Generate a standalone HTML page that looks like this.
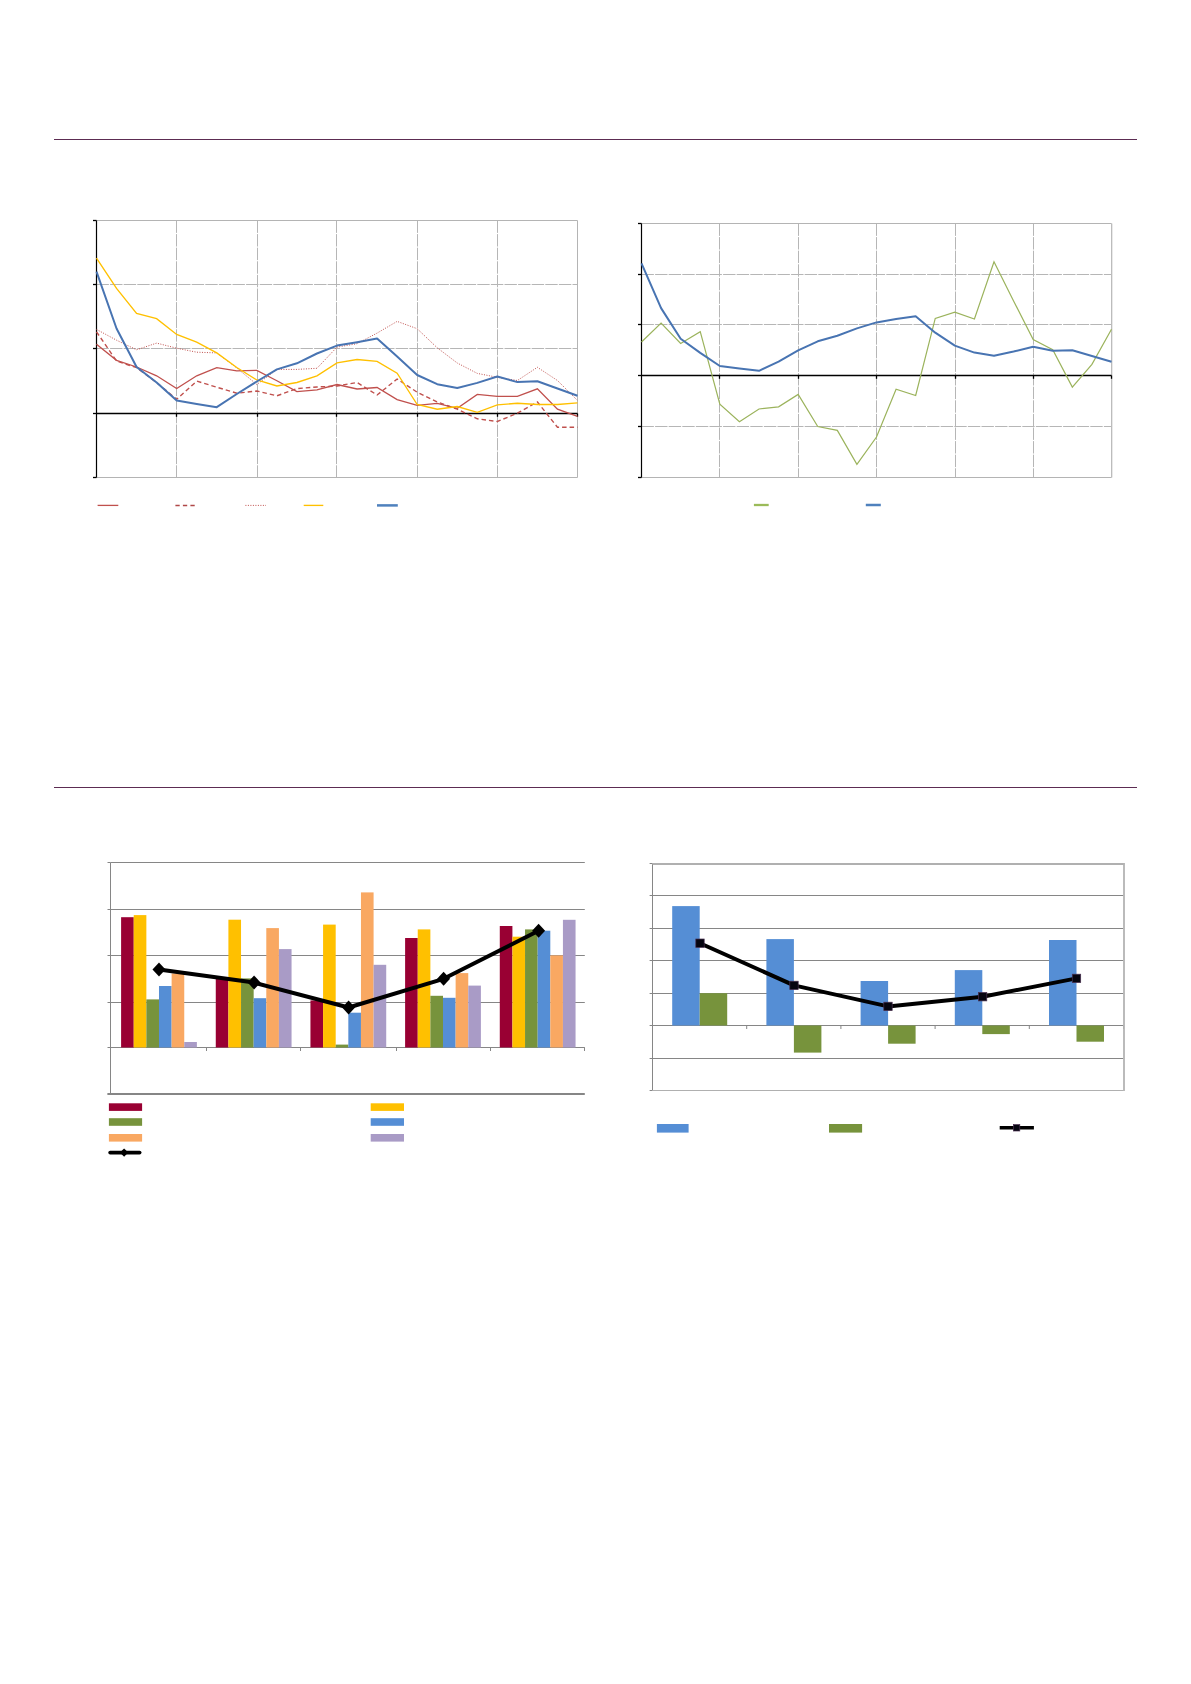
<!DOCTYPE html>
<html><head><meta charset="utf-8"><title>Charts</title>
<style>
html,body{margin:0;padding:0;background:#fff;}
body{width:1191px;height:1684px;overflow:hidden;font-family:"Liberation Sans",sans-serif;}
svg{position:absolute;left:0;top:0;display:block;}
</style></head>
<body>
<svg width="1191" height="1684" viewBox="0 0 1191 1684">
<rect x="54" y="139" width="1083" height="1" fill="#5c2c52"/>
<rect x="54" y="787" width="1083" height="1" fill="#5c2c52"/>
<g stroke="#b6b6b6" stroke-width="1" stroke-dasharray="12.4,1.2"><line x1="96.5" y1="284.5" x2="577.5" y2="284.5"/><line x1="96.5" y1="348.5" x2="577.5" y2="348.5"/><line x1="176.50" y1="220.5" x2="176.50" y2="477.5"/><line x1="257.50" y1="220.5" x2="257.50" y2="477.5"/><line x1="336.50" y1="220.5" x2="336.50" y2="477.5"/><line x1="417.50" y1="220.5" x2="417.50" y2="477.5"/><line x1="497.50" y1="220.5" x2="497.50" y2="477.5"/></g>
<path d="M96.5 220.5 H577.5 V477.5 H96.5" fill="none" stroke="#b4b4b4" stroke-width="1"/>
<line x1="96.5" y1="220.5" x2="96.5" y2="477.5" stroke="#000" stroke-width="1.2"/>
<line x1="96.5" y1="413.5" x2="577.5" y2="413.5" stroke="#000" stroke-width="1.4"/>
<g stroke="#000" stroke-width="1.3"><line x1="93" y1="220.5" x2="96.5" y2="220.5"/><line x1="93" y1="284.5" x2="96.5" y2="284.5"/><line x1="93" y1="348.5" x2="96.5" y2="348.5"/><line x1="93" y1="413.5" x2="96.5" y2="413.5"/><line x1="93" y1="477.5" x2="96.5" y2="477.5"/><line x1="176.50" y1="413.5" x2="176.50" y2="416.8"/><line x1="257.50" y1="413.5" x2="257.50" y2="416.8"/><line x1="336.50" y1="413.5" x2="336.50" y2="416.8"/><line x1="417.50" y1="413.5" x2="417.50" y2="416.8"/><line x1="497.50" y1="413.5" x2="497.50" y2="416.8"/><line x1="577.50" y1="413.5" x2="577.50" y2="416.8"/></g>
<polyline points="96.50,329.40 116.54,340.20 136.58,349.80 156.62,343.10 176.67,348.20 196.71,352.20 216.75,352.90 236.79,368.00 256.83,384.50 276.88,369.40 296.92,369.40 316.96,368.30 337.00,347.10 357.04,343.70 377.08,333.10 397.12,321.40 417.17,328.70 437.21,347.80 457.25,363.00 477.29,373.40 497.33,377.30 517.38,380.50 537.42,367.30 557.46,380.50 577.50,400.50" fill="none" stroke="#c0504d" stroke-width="1" stroke-dasharray="1,1.5"/>
<polyline points="96.50,331.80 116.54,361.00 136.58,367.70 156.62,382.50 176.67,399.30 196.71,381.10 216.75,387.20 236.79,393.20 256.83,391.00 276.88,395.80 296.92,388.60 316.96,387.00 337.00,386.00 357.04,382.50 377.08,395.00 397.12,379.00 417.17,392.20 437.21,402.00 457.25,409.20 477.29,418.80 497.33,421.50 517.38,413.20 537.42,402.00 557.46,427.30 577.50,427.30" fill="none" stroke="#c0504d" stroke-width="1.4" stroke-dasharray="4.5,3"/>
<polyline points="96.50,344.20 116.54,360.30 136.58,367.00 156.62,375.80 176.67,388.50 196.71,375.80 216.75,367.70 236.79,370.80 256.83,370.40 276.88,380.70 296.92,391.60 316.96,389.80 337.00,384.50 357.04,389.00 377.08,387.50 397.12,399.60 417.17,405.30 437.21,403.30 457.25,408.40 477.29,394.40 497.33,396.30 517.38,396.30 537.42,388.80 557.46,409.20 577.50,416.40" fill="none" stroke="#c0504d" stroke-width="1.3"/>
<polyline points="96.50,258.10 116.54,288.40 136.58,313.30 156.62,318.60 176.67,334.50 196.71,342.20 216.75,352.90 236.79,367.50 256.83,380.00 276.88,386.00 296.92,382.50 316.96,375.90 337.00,362.90 357.04,359.50 377.08,361.40 397.12,373.20 417.17,404.50 437.21,409.20 457.25,406.50 477.29,412.40 497.33,404.90 517.38,403.30 537.42,404.50 557.46,404.50 577.50,402.90" fill="none" stroke="#ffc000" stroke-width="1.35"/>
<polyline points="96.50,271.60 116.54,328.50 136.58,367.00 156.62,382.50 176.67,400.60 196.71,404.00 216.75,407.20 236.79,394.00 256.83,381.50 276.88,369.40 296.92,363.30 316.96,353.50 337.00,345.60 357.04,342.20 377.08,338.40 397.12,356.50 417.17,375.00 437.21,384.20 457.25,388.00 477.29,382.90 497.33,376.50 517.38,382.10 537.42,381.30 557.46,388.50 577.50,395.70" fill="none" stroke="#4874b2" stroke-width="2.0" stroke-linejoin="round"/>
<line x1="97.6" y1="505.4" x2="118.3" y2="505.4" stroke="#c0504d" stroke-width="1.3"/>
<line x1="175.4" y1="505.4" x2="195.4" y2="505.4" stroke="#b04848" stroke-width="1.5" stroke-dasharray="4.3,3.2"/>
<line x1="245.4" y1="505.4" x2="266" y2="505.4" stroke="#c0504d" stroke-width="1" stroke-dasharray="1,1.5"/>
<line x1="303.7" y1="505.4" x2="323.3" y2="505.4" stroke="#ffc000" stroke-width="1.35"/>
<line x1="377" y1="505.4" x2="397.8" y2="505.4" stroke="#4f81bd" stroke-width="2.5"/>
<g stroke="#b6b6b6" stroke-width="1" stroke-dasharray="12.4,1.2"><line x1="641.5" y1="274.50" x2="1111.5" y2="274.50"/><line x1="641.5" y1="324.50" x2="1111.5" y2="324.50"/><line x1="641.5" y1="426.50" x2="1111.5" y2="426.50"/><line x1="719.50" y1="223.50" x2="719.50" y2="477.50"/><line x1="798.50" y1="223.50" x2="798.50" y2="477.50"/><line x1="876.50" y1="223.50" x2="876.50" y2="477.50"/><line x1="955.50" y1="223.50" x2="955.50" y2="477.50"/><line x1="1033.50" y1="223.50" x2="1033.50" y2="477.50"/></g>
<path d="M641.5 223.5 H1111.5 V477.5 H641.5" fill="none" stroke="#b4b4b4" stroke-width="1"/>
<line x1="1112.2" y1="223.50" x2="1112.2" y2="477.50" stroke="#d8d8d8" stroke-width="0.8"/>
<line x1="641.5" y1="223.50" x2="641.5" y2="477.50" stroke="#000" stroke-width="1.2"/>
<line x1="641.5" y1="375.50" x2="1111.5" y2="375.50" stroke="#000" stroke-width="1.4"/>
<g stroke="#000" stroke-width="1.3"><line x1="638" y1="223.50" x2="641.5" y2="223.50"/><line x1="638" y1="274.50" x2="641.5" y2="274.50"/><line x1="638" y1="324.50" x2="641.5" y2="324.50"/><line x1="638" y1="375.50" x2="641.5" y2="375.50"/><line x1="638" y1="426.50" x2="641.5" y2="426.50"/><line x1="638" y1="477.50" x2="641.5" y2="477.50"/><line x1="719.50" y1="375.50" x2="719.50" y2="378.80"/><line x1="798.50" y1="375.50" x2="798.50" y2="378.80"/><line x1="876.50" y1="375.50" x2="876.50" y2="378.80"/><line x1="955.50" y1="375.50" x2="955.50" y2="378.80"/><line x1="1033.50" y1="375.50" x2="1033.50" y2="378.80"/><line x1="1111.50" y1="375.50" x2="1111.50" y2="378.80"/></g>
<polyline points="641.50,342.00 661.08,323.00 680.67,343.50 700.25,331.70 719.83,404.20 739.42,421.70 759.00,409.00 778.58,406.80 798.17,394.40 817.75,426.50 837.33,430.40 856.92,464.30 876.50,437.00 896.08,389.30 915.67,395.50 935.25,318.40 954.83,312.20 974.42,319.00 994.00,261.70 1013.58,300.90 1033.17,339.50 1052.75,349.70 1072.33,387.10 1091.92,364.40 1111.50,329.30" fill="none" stroke="#9bb35c" stroke-width="1.2"/>
<polyline points="641.50,263.30 661.08,308.10 680.67,338.70 700.25,352.90 719.83,366.00 739.42,368.60 759.00,370.80 778.58,361.60 798.17,350.30 817.75,341.30 837.33,335.80 856.92,328.40 876.50,322.40 896.08,319.00 915.67,316.30 935.25,332.70 954.83,345.60 974.42,352.60 994.00,355.80 1013.58,351.50 1033.17,346.70 1052.75,350.80 1072.33,350.30 1091.92,356.00 1111.50,361.70" fill="none" stroke="#4874b2" stroke-width="2.0" stroke-linejoin="round"/>
<line x1="753.9" y1="505" x2="768.7" y2="505" stroke="#9bbb59" stroke-width="2.3"/>
<line x1="865.8" y1="505" x2="880.8" y2="505" stroke="#4f81bd" stroke-width="2.5"/>
<g stroke="#868686" stroke-width="1"><line x1="110.5" y1="862.50" x2="584.8" y2="862.50"/><line x1="110.5" y1="909.50" x2="584.8" y2="909.50"/><line x1="110.5" y1="955.50" x2="584.8" y2="955.50"/><line x1="110.5" y1="1002.50" x2="584.8" y2="1002.50"/><line x1="110.5" y1="1047.50" x2="584.8" y2="1047.50"/><line x1="107.5" y1="862.50" x2="110.5" y2="862.50"/><line x1="107.5" y1="909.50" x2="110.5" y2="909.50"/><line x1="107.5" y1="955.50" x2="110.5" y2="955.50"/><line x1="107.5" y1="1002.50" x2="110.5" y2="1002.50"/><line x1="107.5" y1="1047.50" x2="110.5" y2="1047.50"/><line x1="107.5" y1="1094.00" x2="110.5" y2="1094.00"/><line x1="206.50" y1="1047.50" x2="206.50" y2="1051.00"/><line x1="300.50" y1="1047.50" x2="300.50" y2="1051.00"/><line x1="396.50" y1="1047.50" x2="396.50" y2="1051.00"/><line x1="490.50" y1="1047.50" x2="490.50" y2="1051.00"/><line x1="584.50" y1="1047.50" x2="584.50" y2="1051.00"/><line x1="110.5" y1="862.50" x2="110.5" y2="1094.00"/></g>
<line x1="107.5" y1="1094.00" x2="584.8" y2="1094.00" stroke="#868686" stroke-width="2"/>
<rect x="121.10" y="917.20" width="12.63" height="130.30" fill="#990033"/>
<rect x="133.73" y="915.10" width="12.63" height="132.40" fill="#ffc000"/>
<rect x="146.36" y="999.40" width="12.63" height="48.10" fill="#77933c"/>
<rect x="158.99" y="986.00" width="12.63" height="61.50" fill="#558ed5"/>
<rect x="171.62" y="973.50" width="12.63" height="74.00" fill="#f9a862"/>
<rect x="184.25" y="1042.00" width="12.63" height="5.50" fill="#a99bc6"/>
<rect x="215.77" y="979.00" width="12.63" height="68.50" fill="#990033"/>
<rect x="228.40" y="919.70" width="12.63" height="127.80" fill="#ffc000"/>
<rect x="241.03" y="978.40" width="12.63" height="69.10" fill="#77933c"/>
<rect x="253.66" y="998.20" width="12.63" height="49.30" fill="#558ed5"/>
<rect x="266.29" y="928.10" width="12.63" height="119.40" fill="#f9a862"/>
<rect x="278.92" y="949.10" width="12.63" height="98.40" fill="#a99bc6"/>
<rect x="310.44" y="1000.40" width="12.63" height="47.10" fill="#990033"/>
<rect x="323.07" y="924.60" width="12.63" height="122.90" fill="#ffc000"/>
<rect x="335.70" y="1044.60" width="12.63" height="2.90" fill="#77933c"/>
<rect x="348.33" y="1012.70" width="12.63" height="34.80" fill="#558ed5"/>
<rect x="360.96" y="892.40" width="12.63" height="155.10" fill="#f9a862"/>
<rect x="373.59" y="964.80" width="12.63" height="82.70" fill="#a99bc6"/>
<rect x="405.11" y="938.00" width="12.63" height="109.50" fill="#990033"/>
<rect x="417.74" y="929.40" width="12.63" height="118.10" fill="#ffc000"/>
<rect x="430.37" y="995.80" width="12.63" height="51.70" fill="#77933c"/>
<rect x="443.00" y="997.80" width="12.63" height="49.70" fill="#558ed5"/>
<rect x="455.63" y="973.10" width="12.63" height="74.40" fill="#f9a862"/>
<rect x="468.26" y="985.60" width="12.63" height="61.90" fill="#a99bc6"/>
<rect x="499.78" y="926.00" width="12.63" height="121.50" fill="#990033"/>
<rect x="512.41" y="936.70" width="12.63" height="110.80" fill="#ffc000"/>
<rect x="525.04" y="929.40" width="12.63" height="118.10" fill="#77933c"/>
<rect x="537.67" y="930.70" width="12.63" height="116.80" fill="#558ed5"/>
<rect x="550.30" y="955.40" width="12.63" height="92.10" fill="#f9a862"/>
<rect x="562.93" y="919.80" width="12.63" height="127.70" fill="#a99bc6"/>
<polyline points="159.0,969.5 254.1,982.6 348.6,1007.5 443.6,978.8 538.6,930.7" fill="none" stroke="#000" stroke-width="4" stroke-linejoin="round"/>
<path d="M159.0 962.5 L165.5 969.5 L159.0 976.5 L152.5 969.5 Z" fill="#000"/>
<path d="M254.1 975.6 L260.6 982.6 L254.1 989.6 L247.6 982.6 Z" fill="#000"/>
<path d="M348.6 1000.5 L355.1 1007.5 L348.6 1014.5 L342.1 1007.5 Z" fill="#000"/>
<path d="M443.6 971.8 L450.1 978.8 L443.6 985.8 L437.1 978.8 Z" fill="#000"/>
<path d="M538.6 923.7 L545.1 930.7 L538.6 937.7 L532.1 930.7 Z" fill="#000"/>
<rect x="108.9" y="1103.3" width="33.2" height="7.6" fill="#990033"/>
<rect x="370.7" y="1103.3" width="33.3" height="7.6" fill="#ffc000"/>
<rect x="108.9" y="1118.2" width="33.2" height="7.6" fill="#77933c"/>
<rect x="370.7" y="1118.2" width="33.3" height="7.6" fill="#558ed5"/>
<rect x="108.9" y="1134.0" width="33.2" height="7.6" fill="#f9a862"/>
<rect x="370.7" y="1134.0" width="33.3" height="7.6" fill="#a99bc6"/>
<line x1="110.2" y1="1152.6" x2="139.6" y2="1152.6" stroke="#000" stroke-width="3.8" stroke-linecap="round"/>
<path d="M124.1 1148.4 L128.3 1152.6 L124.1 1156.8 L119.9 1152.6 Z" fill="#000"/>
<g stroke="#868686" stroke-width="1"><line x1="652.5" y1="895.50" x2="1123.5" y2="895.50"/><line x1="652.5" y1="928.50" x2="1123.5" y2="928.50"/><line x1="652.5" y1="960.50" x2="1123.5" y2="960.50"/><line x1="652.5" y1="993.50" x2="1123.5" y2="993.50"/><line x1="652.5" y1="1025.50" x2="1123.5" y2="1025.50"/><line x1="652.5" y1="1058.50" x2="1123.5" y2="1058.50"/><line x1="649.6" y1="863.50" x2="652.5" y2="863.50"/><line x1="649.6" y1="895.50" x2="652.5" y2="895.50"/><line x1="649.6" y1="928.50" x2="652.5" y2="928.50"/><line x1="649.6" y1="960.50" x2="652.5" y2="960.50"/><line x1="649.6" y1="993.50" x2="652.5" y2="993.50"/><line x1="649.6" y1="1025.50" x2="652.5" y2="1025.50"/><line x1="649.6" y1="1058.50" x2="652.5" y2="1058.50"/><line x1="649.6" y1="1090.50" x2="652.5" y2="1090.50"/><line x1="746.70" y1="1025.50" x2="746.70" y2="1029.00"/><line x1="840.90" y1="1025.50" x2="840.90" y2="1029.00"/><line x1="935.10" y1="1025.50" x2="935.10" y2="1029.00"/><line x1="1029.30" y1="1025.50" x2="1029.30" y2="1029.00"/><line x1="1123.50" y1="1025.50" x2="1123.50" y2="1029.00"/><line x1="652.5" y1="863.50" x2="652.5" y2="1090.50"/></g>
<line x1="652.5" y1="864" x2="1124.3" y2="864" stroke="#b0b0b0" stroke-width="2"/>
<line x1="652.5" y1="1090.50" x2="1123.5" y2="1090.50" stroke="#b0b0b0" stroke-width="1.1"/>
<line x1="1124" y1="863" x2="1124" y2="1091" stroke="#b4b4b4" stroke-width="1.8"/>
<rect x="672.20" y="906.10" width="27.5" height="119.40" fill="#558ed5"/>
<rect x="699.70" y="993.20" width="27.5" height="32.30" fill="#77933c"/>
<rect x="766.40" y="939.10" width="27.5" height="86.40" fill="#558ed5"/>
<rect x="793.90" y="1025.50" width="27.5" height="27.10" fill="#77933c"/>
<rect x="860.60" y="981.00" width="27.5" height="44.50" fill="#558ed5"/>
<rect x="888.10" y="1025.50" width="27.5" height="18.20" fill="#77933c"/>
<rect x="954.80" y="970.10" width="27.5" height="55.40" fill="#558ed5"/>
<rect x="982.30" y="1025.50" width="27.5" height="8.60" fill="#77933c"/>
<rect x="1049.00" y="940.00" width="27.5" height="85.50" fill="#558ed5"/>
<rect x="1076.50" y="1025.50" width="27.5" height="16.20" fill="#77933c"/>
<polyline points="700.0,943.2 794.0,985.4 888.0,1006.4 982.6,996.7 1076.5,978.4" fill="none" stroke="#000" stroke-width="4" stroke-linejoin="round"/>
<rect x="695.8" y="939.0" width="8.4" height="8.4" fill="#050510" stroke="#4a3050" stroke-width="0.7"/>
<rect x="789.8" y="981.1999999999999" width="8.4" height="8.4" fill="#050510" stroke="#4a3050" stroke-width="0.7"/>
<rect x="883.8" y="1002.1999999999999" width="8.4" height="8.4" fill="#050510" stroke="#4a3050" stroke-width="0.7"/>
<rect x="978.4" y="992.5" width="8.4" height="8.4" fill="#050510" stroke="#4a3050" stroke-width="0.7"/>
<rect x="1072.3" y="974.1999999999999" width="8.4" height="8.4" fill="#050510" stroke="#4a3050" stroke-width="0.7"/>
<rect x="656.9" y="1124" width="31.7" height="8.6" fill="#558ed5"/>
<rect x="829" y="1124" width="33.1" height="8.6" fill="#77933c"/>
<line x1="999.7" y1="1127.8" x2="1033.9" y2="1127.8" stroke="#000" stroke-width="3.4" stroke-linecap="butt"/>
<rect x="1013.4" y="1124.6" width="6.4" height="6.4" fill="#050510" stroke="#4a3050" stroke-width="0.7"/>
</svg>
</body></html>
